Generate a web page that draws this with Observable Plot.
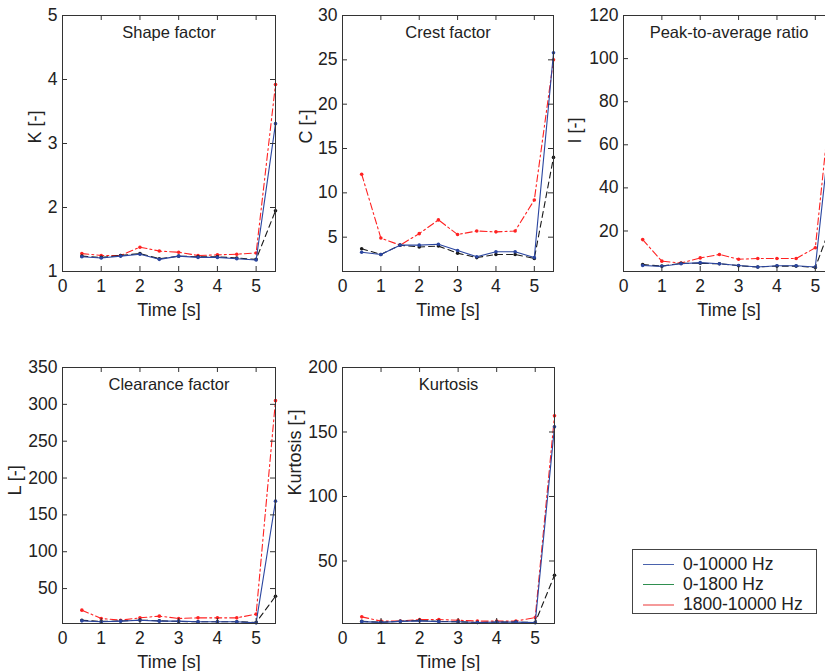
<!DOCTYPE html>
<html>
<head>
<meta charset="utf-8">
<script src="https://cdn.jsdelivr.net/npm/d3@7"></script>
<script src="https://cdn.jsdelivr.net/npm/@observablehq/plot@0.6"></script>
<style>
  html, body { margin: 0; padding: 0; background: #fff; overflow: hidden; }
  #wrap { position: relative; width: 825px; height: 671px; overflow: hidden; font-family: "Liberation Sans", Arial, sans-serif; }
  .panel { position: absolute; }
  #legend { position: absolute; left: 632px; top: 549px; width: 185px; height: 65px; border: 1px solid #444; box-sizing: border-box; background: #fff; }
  .lrow { position: absolute; left: 0; height: 20px; width: 100%; }
  .lsw { position: absolute; left: 10px; top: 10px; width: 31px; height: 0; }
  .ltx { position: absolute; left: 50px; top: 0; font-size: 17.5px; line-height: 20px; color: #222; white-space: nowrap; }
</style>
</head>
<body>
<div id="wrap"></div>
<script>
// ---- data ----
const time = [0.5, 1, 1.5, 2, 2.5, 3, 3.5, 4, 4.5, 5, 5.5];
const seriesNames = ["0-10000 Hz", "0-1800 Hz", "1800-10000 Hz"];
const xTicks = [0, 1, 2, 3, 4, 5];

const shapeBlue  = [1.23, 1.21, 1.24, 1.27, 1.19, 1.24, 1.22, 1.22, 1.20, 1.18, 3.31];
const shapeBlack = [1.24, 1.22, 1.25, 1.28, 1.20, 1.24, 1.23, 1.23, 1.21, 1.19, 1.95];
const shapeRed   = [1.28, 1.25, 1.25, 1.38, 1.32, 1.30, 1.25, 1.26, 1.27, 1.29, 3.92];

const crestBlue  = [3.3, 3.05, 4.1, 4.1, 4.2, 3.5, 2.8, 3.35, 3.35, 2.7, 25.8];
const crestBlack = [3.7, 3.05, 4.1, 3.9, 4.0, 3.2, 2.7, 3.05, 3.05, 2.6, 14.0];
const crestRed   = [12.1, 4.9, 4.1, 5.4, 6.95, 5.3, 5.7, 5.6, 5.7, 9.2, 25.0];

const peakBlue  = [4.0, 3.6, 4.8, 5.3, 4.8, 4.0, 3.3, 3.9, 3.9, 3.3, 85];
const peakBlack = [4.4, 3.7, 5.0, 5.0, 4.8, 3.9, 3.3, 3.7, 3.7, 3.1, 27];
const peakRed   = [16.0, 6.0, 5.1, 7.5, 9.1, 6.9, 7.2, 7.2, 7.2, 12.2, 98];

const clearBlue  = [6.2, 5.0, 5.8, 7.0, 5.8, 5.8, 5.0, 5.0, 5.0, 3.5, 168.6];
const clearBlack = [7.0, 5.4, 6.0, 7.2, 6.2, 5.4, 5.0, 5.0, 5.0, 4.0, 39.6];
const clearRed   = [20.7, 9.4, 7.1, 10.3, 12.6, 9.4, 10.3, 10.3, 10.3, 15.3, 305];

const kurtBlue  = [3.0, 2.4, 3.2, 3.6, 3.0, 2.9, 2.3, 2.6, 2.6, 2.2, 154];
const kurtBlack = [3.2, 2.5, 3.3, 3.8, 3.2, 2.9, 2.3, 2.6, 2.6, 2.3, 39];
const kurtRed   = [6.7, 3.4, 3.4, 4.6, 4.6, 4.1, 3.4, 3.4, 3.4, 6.2, 162.6];

// ---- panel definitions ----
const panels = [
  {title: "Shape factor", ylabel: "K [-]", yDomain: [1, 5], yTicks: [1, 2, 3, 4, 5],
   blue: shapeBlue, black: shapeBlack, red: shapeRed, left: 0, top: 0, mL: 62, mR: 5, lab: 34},
  {title: "Crest factor", ylabel: "C [-]", yDomain: [1.13, 30], yTicks: [5, 10, 15, 20, 25, 30],
   blue: crestBlue, black: crestBlack, red: crestRed, left: 280, top: 0, mL: 62, mR: 7, lab: 43},
  {title: "Peak-to-average ratio", ylabel: "I [-]", yDomain: [1.2, 120], yTicks: [20, 40, 60, 80, 100, 120],
   blue: peakBlue, black: peakBlack, red: peakRed, left: 560, top: 0, mL: 63, mR: 6, lab: 55},
  {title: "Clearance factor", ylabel: "L [-]", yDomain: [2.6, 350], yTicks: [50, 100, 150, 200, 250, 300, 350],
   blue: clearBlue, black: clearBlack, red: clearRed, left: 0, top: 352, mL: 62, mR: 5, lab: 54},
  {title: "Kurtosis", ylabel: "Kurtosis [-]", yDomain: [1.55, 200], yTicks: [50, 100, 150, 200],
   blue: kurtBlue, black: kurtBlack, red: kurtRed, left: 280, top: 352, mL: 62, mR: 6, lab: 54}
];

const W = 280, H = 330, mT = 15, mB = 59;
const font = '"Liberation Sans", Arial, sans-serif';
const wrap = document.getElementById("wrap");
const fmt = d => String(d);

const styles = {
  blue:  {stroke: "#2b46a0", dash: null},
  black: {stroke: "#1a1a1a", dash: "6,4"},
  red:   {stroke: "#ff2222", dash: "7,3,2,3"}
};

for (const p of panels) {
  const fw = W - p.mL - p.mR;
  const fh = H - mT - mB;
  const rows = [];
  for (const key of ["blue", "black", "red"]) {
    p[key].forEach((v, i) => rows.push({s: key, t: time[i], v}));
  }
  const lineMarks = [];
  for (const key of ["red", "black", "blue"]) {
    const d = rows.filter(r => r.s === key);
    lineMarks.push(Plot.line(d, {x: "t", y: "v", stroke: styles[key].stroke, strokeWidth: 1.1,
      strokeDasharray: styles[key].dash}));
    lineMarks.push(Plot.dot(d, {x: "t", y: "v", r: 1.8, fill: styles[key].stroke, stroke: "none"}));
  }
  const chart = Plot.plot({
    width: W, height: H,
    marginLeft: p.mL, marginRight: p.mR, marginTop: mT, marginBottom: mB,
    style: {fontFamily: font, fontSize: "17.5px", color: "#222", background: "transparent", overflow: "visible"},
    x: {domain: [0, 5.5], axis: null},
    y: {domain: p.yDomain, axis: null},
    marks: [
      ...lineMarks,
      Plot.frame({stroke: "#333", strokeWidth: 1}),
      // inward ticks on all four sides
      Plot.tickX(xTicks, {x: d => d, insetTop: fh - 5, stroke: "#333"}),
      Plot.tickX(xTicks, {x: d => d, insetBottom: fh - 5, stroke: "#333"}),
      Plot.tickY(p.yTicks, {y: d => d, insetRight: fw - 5, stroke: "#333"}),
      Plot.tickY(p.yTicks, {y: d => d, insetLeft: fw - 5, stroke: "#333"}),
      Plot.axisX(xTicks, {tickSize: 0, tickPadding: 8, fontSize: 17.5, fill: "#222", label: null, tickFormat: fmt}),
      Plot.axisY(p.yTicks, {tickSize: 0, tickPadding: 5, fontSize: 17.5, fill: "#222", label: null, tickFormat: fmt}),
      Plot.text([p.title], {frameAnchor: "top", dy: 17, lineAnchor: "middle", text: d => d, fontSize: 16.5, fill: "#222"}),
      Plot.text(["Time [s]"], {frameAnchor: "bottom", dy: 44, text: d => d, fontSize: 18, fill: "#222"}),
      Plot.text([p.ylabel], {frameAnchor: "left", dx: -p.lab, rotate: -90, lineAnchor: "top",
        text: d => d, fontSize: 18, fill: "#222"})
    ]
  });
  chart.classList.add("panel");
  chart.style.left = p.left + "px";
  chart.style.top = p.top + "px";
  wrap.appendChild(chart);
}

// ---- legend ----
const legendColors = ["#4a62ad", "#2f8f4f", "#f59a9a"];
const legendWidths = [1.2, 1.2, 2];
const legend = document.createElement("div");
legend.id = "legend";
seriesNames.forEach((name, i) => {
  const row = document.createElement("div");
  row.className = "lrow";
  row.style.top = (4 + i * 20) + "px";
  const sw = document.createElement("div");
  sw.className = "lsw";
  sw.style.borderTop = legendWidths[i] + "px solid " + legendColors[i];
  const tx = document.createElement("div");
  tx.className = "ltx";
  tx.textContent = name;
  row.appendChild(sw);
  row.appendChild(tx);
  legend.appendChild(row);
});
wrap.appendChild(legend);
</script>
</body>
</html>
